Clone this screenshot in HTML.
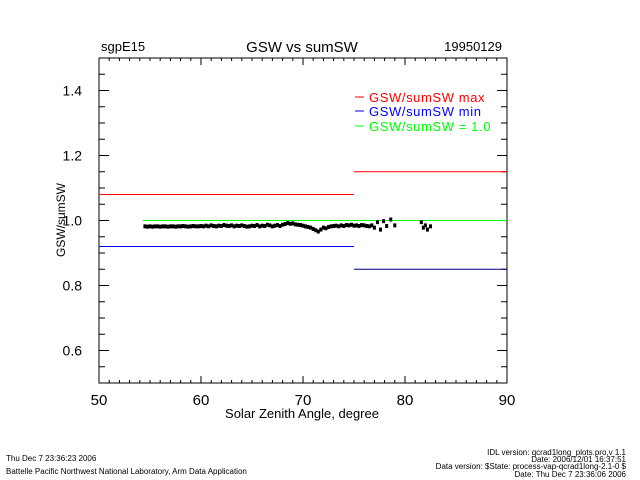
<!DOCTYPE html>
<html><head><meta charset="utf-8"><style>
html,body{margin:0;padding:0;background:#fff;}
svg{display:block;font-family:"Liberation Sans",sans-serif;}
</style></head><body>
<svg id="chart" width="640" height="480" viewBox="0 0 640 480">
<rect width="640" height="480" fill="#fff"/>
<text x="101" y="51" font-size="13">sgpE15</text>
<text x="302" y="52" font-size="15" text-anchor="middle">GSW vs sumSW</text>
<text x="502" y="51" font-size="13" text-anchor="end">19950129</text>
<g id="plot"></g>
<text x="302" y="418" font-size="13" text-anchor="middle">Solar Zenith Angle, degree</text>
<text transform="translate(65,220) rotate(-90)" font-size="12" text-anchor="middle">GSW/sumSW</text>
<g font-size="13" letter-spacing="0.6">
<line x1="355" y1="97" x2="364" y2="97" stroke="#f00"/>
<text x="369" y="102" fill="#f00">GSW/sumSW  max</text>
<line x1="355" y1="111" x2="364" y2="111" stroke="#00f"/>
<text x="369" y="116" fill="#00f">GSW/sumSW  min</text>
<line x1="355" y1="126" x2="364" y2="126" stroke="#0f0"/>
<text x="369" y="131" fill="#0f0">GSW/sumSW  =  1.0</text>
</g>
<g font-size="8">
<text x="6" y="461">Thu Dec  7 23:36:23 2006</text>
<text x="6" y="474">Battelle Pacific Northwest National Laboratory, Arm Data Application</text>
<text x="626" y="455" text-anchor="end">IDL version: qcrad1long_plots.pro,v 1.1</text>
<text x="626" y="462" text-anchor="end">Date: 2006/12/01 16:37:51</text>
<text x="626" y="469" text-anchor="end">Data version: $State: process-vap-qcrad1long-2.1-0 $</text>
<text x="626" y="477" text-anchor="end">Date: Thu Dec  7 23:36:06 2006</text>
</g>
</svg>
<script>
const zenith = [54.5,54.75,55,55.25,55.5,55.75,56,56.25,56.5,56.75,57,57.25,57.5,57.75,58,58.25,58.5,58.75,59,59.25,59.5,59.75,60,60.25,60.5,60.75,61,61.25,61.5,61.75,62,62.25,62.5,62.75,63,63.25,63.5,63.75,64,64.25,64.5,64.75,65,65.25,65.5,65.75,66,66.25,66.5,66.75,67,67.25,67.5,67.75,68,68.25,68.5,68.75,69,69.25,69.5,69.75,70,70.25,70.5,70.75,71,71.25,71.5,71.75,72,72.25,72.5,72.75,73,73.25,73.5,73.75,74,74.25,74.5,74.75,75,75.25,75.5,75.75,76,76.25,76.5,76.75,77,77.3,77.6,77.9,78.2,78.6,79,81.6,81.8,82,82.2,82.5];
const ratio = [0.982,0.981,0.982,0.981,0.982,0.982,0.981,0.982,0.982,0.981,0.982,0.982,0.981,0.982,0.982,0.983,0.982,0.981,0.982,0.983,0.982,0.982,0.983,0.982,0.984,0.982,0.985,0.983,0.982,0.984,0.983,0.986,0.984,0.983,0.985,0.982,0.984,0.983,0.985,0.983,0.981,0.982,0.984,0.983,0.986,0.982,0.984,0.983,0.987,0.985,0.982,0.984,0.986,0.983,0.987,0.989,0.992,0.990,0.991,0.988,0.987,0.986,0.984,0.982,0.980,0.978,0.974,0.970,0.966,0.972,0.978,0.976,0.980,0.982,0.983,0.984,0.982,0.985,0.983,0.986,0.985,0.987,0.984,0.985,0.983,0.986,0.985,0.983,0.982,0.985,0.978,0.995,0.972,0.998,0.983,1.003,0.985,0.995,0.978,0.985,0.972,0.982];
const maxX = [50,75,90], maxVals = [1.08,1.15];
const minX = [50,75,90], minVals = [0.92,0.85];
const oneStart = 54.3, oneVal = 1.0;
const xTicks = [50,60,70,80,90];
const yTicks = [0.6,0.8,1.0,1.2,1.4];

const X0=99,X1=507,Y0=383,Y1=58,xMin=50,xMax=90,yMin=0.5,yMax=1.5;
const sx=v=>X0+(v-xMin)/(xMax-xMin)*(X1-X0);
const sy=v=>Y0-(v-yMin)/(yMax-yMin)*(Y0-Y1);
const NS="http://www.w3.org/2000/svg";
const g=document.getElementById('plot');
function mk(t,a){const e=document.createElementNS(NS,t);for(const k in a)e.setAttribute(k,a[k]);g.appendChild(e);return e;}

let ax=mk('rect',{x:X0,y:Y1,width:X1-X0,height:Y0-Y1,fill:'none',stroke:'#000','stroke-width':1});


for(let v=50;v<=90;v++){const x=sx(v);const L=(v%10===0)?7:3;
 let t=mk('line',{x1:x,x2:x,y1:Y0,y2:Y0-L,stroke:'#000'});
 
 
 let t2=mk('line',{x1:x,x2:x,y1:Y1,y2:Y1+L,stroke:'#000'});
 
 }
for(let i=0;i<=20;i++){const v=0.5+i*0.05;const y=sy(v);const L=(i%4===2)?10:6;
 let t=mk('line',{x1:X0,x2:X0+L,y1:y,y2:y,stroke:'#000'});
 
 
 let t2=mk('line',{x1:X1,x2:X1-L,y1:y,y2:y,stroke:'#000'});
 
 }
xTicks.forEach(v=>{let t=mk('text',{x:sx(v),y:Y0+22,'font-size':15,'text-anchor':'middle'});t.textContent=v;
 
 });
yTicks.forEach(v=>{let t=mk('text',{x:X0-17,y:sy(v)+5,'font-size':14,'text-anchor':'end'});t.textContent=v.toFixed(1);
 
 });
maxVals.forEach((v,i)=>{let l=mk('line',{x1:sx(maxX[i]),x2:sx(maxX[i+1]),y1:sy(v),y2:sy(v),stroke:'#f00'});
 
 });
minVals.forEach((v,i)=>{let l=mk('line',{x1:sx(minX[i]),x2:sx(minX[i+1]),y1:sy(v),y2:sy(v),stroke:i?'#000080':'#00f'});
 
 });
let one=mk('line',{x1:sx(oneStart),x2:X1,y1:sy(oneVal),y2:sy(oneVal),stroke:'#0f0'});


zenith.forEach((z,i)=>{let p=mk('rect',{x:sx(z)-1.5,y:sy(ratio[i])-2,width:3,height:4,fill:'#000'});
 
 });
</script>
</body></html>
